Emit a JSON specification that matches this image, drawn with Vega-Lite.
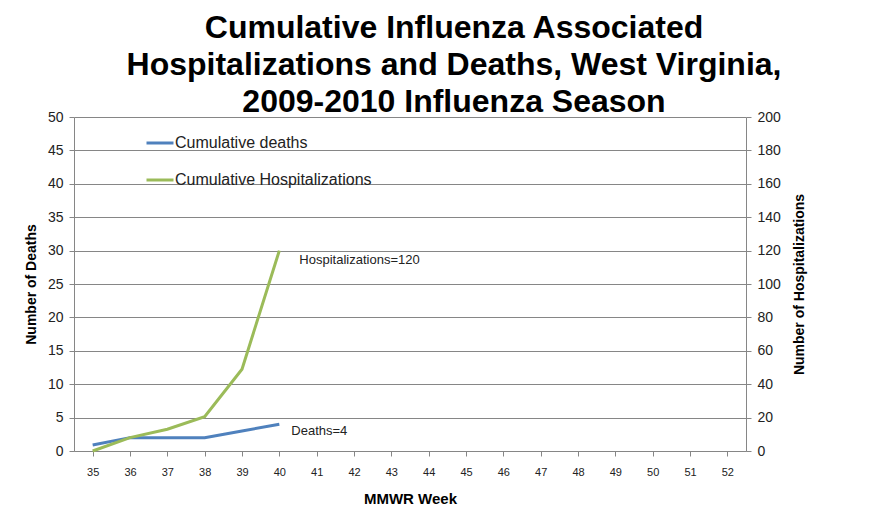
{
  "$schema": "https://vega.github.io/schema/vega-lite/v6.json",
  "autosize": "none",
  "width": 672,
  "height": 334,
  "padding": {"left": 74, "top": 117, "right": 145, "bottom": 63},
  "background": "white",
  "title": {
    "text": ["Cumulative Influenza Associated", "Hospitalizations and Deaths, West Virginia,", "2009-2010 Influenza Season"],
    "font": "Liberation Sans",
    "fontSize": 32,
    "fontWeight": "bold",
    "color": "#000000",
    "lineHeight": 37,
    "anchor": "middle",
    "frame": "group",
    "dx": 44,
    "offset": -9
  },
  "config": {
    "view": {"stroke": null},
    "axis": {
      "labelFont": "Liberation Sans",
      "titleFont": "Liberation Sans",
      "labelColor": "#222222",
      "titleColor": "#000000",
      "domainColor": "#868686",
      "tickColor": "#868686",
      "gridColor": "#868686",
      "gridOpacity": 1,
      "domainWidth": 1,
      "tickWidth": 1,
      "gridWidth": 1,
      "labelOverlap": false
    }
  },
  "layer": [
    {
      "data": {"values": [
        {"week": 35, "value": 0.9},
        {"week": 36, "value": 2},
        {"week": 37, "value": 2},
        {"week": 38, "value": 2},
        {"week": 39, "value": 3},
        {"week": 40, "value": 4, "label": "Deaths=4"}
      ]},
      "encoding": {
        "x": {
          "field": "week", "type": "ordinal",
          "scale": {"domain": [35,36,37,38,39,40,41,42,43,44,45,46,47,48,49,50,51,52], "paddingInner": 0, "paddingOuter": 0},
          "axis": {
            "title": "MMWR Week", "titleFontSize": 15, "titleFontWeight": "bold", "titlePadding": 14,
            "labelAngle": 0, "labelFontSize": 11, "labelPadding": 10, "tickSize": 5,
            "bandPosition": 0, "grid": false
          }
        },
        "y": {
          "field": "value", "type": "quantitative",
          "scale": {"domain": [0, 50], "nice": false},
          "axis": {
            "title": "Number of Deaths", "titleFontSize": 14, "titleFontWeight": "bold", "titlePadding": 9,
            "values": [0,5,10,15,20,25,30,35,40,45,50], "labelFontSize": 14, "labelPadding": 6, "tickSize": 5,
            "grid": true
          }
        }
      },
      "layer": [
        {
          "mark": {"type": "line", "strokeWidth": 3},
          "encoding": {
            "color": {
              "datum": "Cumulative deaths",
              "type": "nominal",
              "scale": {"domain": ["Cumulative deaths", "Cumulative Hospitalizations"], "range": ["#4F81BD", "#9BBB59"]},
              "legend": {
                "title": null, "orient": "none", "legendX": 71, "legendY": 11,
                "symbolType": "stroke", "symbolSize": 729, "symbolStrokeWidth": 3,
                "labelFont": "Liberation Sans", "labelFontSize": 16, "labelColor": "#222222", "labelOffset": 0,
                "labelLimit": 0, "rowPadding": 14, "padding": 0
              }
            }
          }
        },
        {
          "transform": [{"filter": "datum.label != null"}],
          "mark": {"type": "text", "align": "left", "baseline": "middle", "dx": 12, "dy": 7, "font": "Liberation Sans", "fontSize": 13, "color": "#222222"},
          "encoding": {"text": {"field": "label"}}
        }
      ]
    },
    {
      "data": {"values": [
        {"week": 35, "value": 0},
        {"week": 36, "value": 8},
        {"week": 37, "value": 13},
        {"week": 38, "value": 20.5},
        {"week": 39, "value": 49},
        {"week": 40, "value": 120, "label": "Hospitalizations=120"}
      ]},
      "encoding": {
        "x": {"field": "week", "type": "ordinal"},
        "y": {
          "field": "value", "type": "quantitative",
          "scale": {"domain": [0, 200], "nice": false},
          "axis": {
            "orient": "right",
            "title": "Number of Hospitalizations", "titleFontSize": 14, "titleFontWeight": "bold", "titlePadding": 12,
            "titleAngle": 270, "titleBaseline": "top",
            "values": [0,20,40,60,80,100,120,140,160,180,200], "labelFontSize": 14, "labelPadding": 6, "tickSize": 5,
            "grid": false
          }
        }
      },
      "layer": [
        {
          "mark": {"type": "line", "strokeWidth": 3},
          "encoding": {"color": {"datum": "Cumulative Hospitalizations", "type": "nominal"}}
        },
        {
          "transform": [{"filter": "datum.label != null"}],
          "mark": {"type": "text", "align": "left", "baseline": "middle", "dx": 20, "dy": 9, "font": "Liberation Sans", "fontSize": 13, "color": "#222222"},
          "encoding": {"text": {"field": "label"}}
        }
      ]
    }
  ],
  "resolve": {"scale": {"y": "independent"}}
}
